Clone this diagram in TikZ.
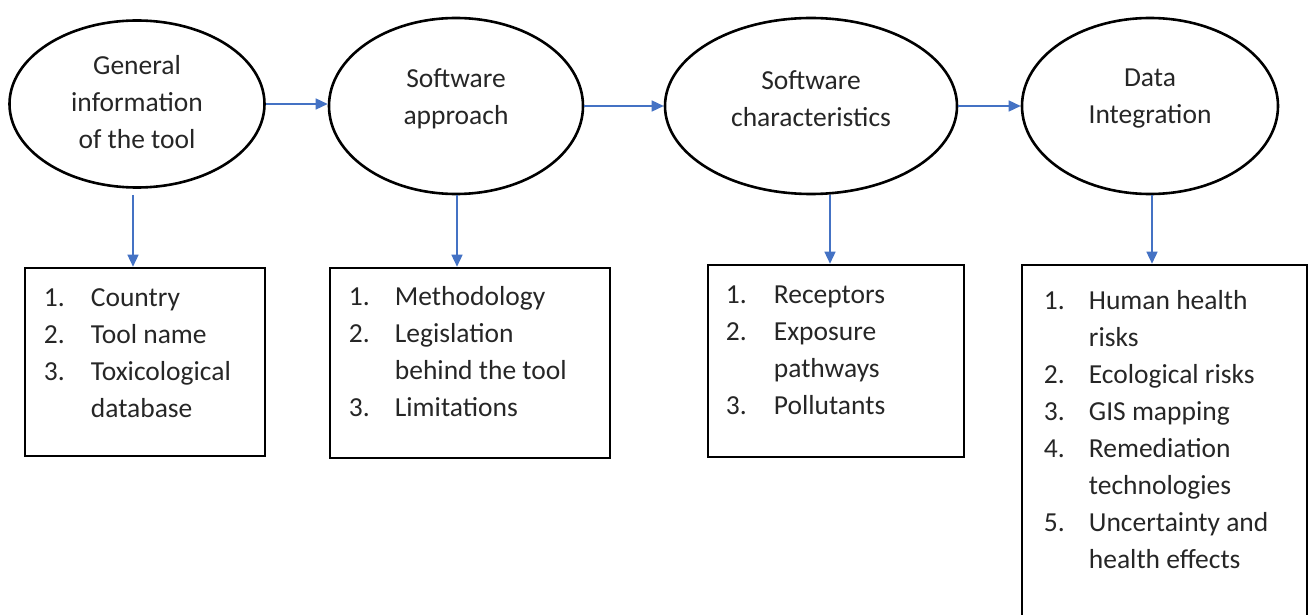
\documentclass[tikz,border=0pt]{standalone}
\usepackage{fontspec}
\setmainfont{Carlito}
\usetikzlibrary{shapes.geometric,arrows.meta}
\definecolor{arrblue}{HTML}{4472C4}
\definecolor{txtgray}{HTML}{262626}
\begin{document}
\begin{tikzpicture}[x=1pt,y=-1pt,
  oval/.style={draw=black,line width=2.6pt,ellipse,inner sep=0pt},
  box/.style={draw=black,line width=2.6pt,rectangle,inner sep=0pt},
  txt/.style={text=txtgray,font=\fontsize{27.5}{37}\selectfont,inner sep=0pt},
  list/.style={txt,anchor=base west},
  arr/.style={draw=arrblue,line width=1.5pt,-{Triangle[length=12pt,width=11pt]}}]
\useasboundingbox (0,0) rectangle (1309,615);
% ellipses
\node[oval,minimum width=255pt,minimum height=167pt] (e1) at (137,104) {};
\node[oval,minimum width=254pt,minimum height=176pt] (e2) at (456,106) {};
\node[oval,minimum width=292pt,minimum height=176pt] (e3) at (811,106) {};
\node[oval,minimum width=256pt,minimum height=176pt] (e4) at (1150,106) {};
\node[txt,align=center] (t1) at (137,102) {General\\information\\of the tool};
\node[txt,align=center] (t2) at (456,98.5) {Software\\approach};
\node[txt,align=center] (t3) at (811,98.5) {Software\\characteristics};
\node[txt,align=center] (t4) at (1150,98.5) {Data\\Integration};
% boxes
\node[box,minimum width=240pt,minimum height=188pt] (b1) at (145,362) {};
\node[box,minimum width=280pt,minimum height=190pt] (b2) at (470,363) {};
\node[box,minimum width=256pt,minimum height=192pt] (b3) at (836,361) {};
\node[box,minimum width=285pt,minimum height=360pt] (b4) at (1164.5,445) {};
\node[list] (l1) at ([shift={(20,40)}]b1.north west)
  {\begin{tabular}[t]{@{}p{47pt}@{}l@{}}1. & Country\\2. & Tool name\\3. & Toxicological\\ & database\end{tabular}};
\node[list] (l2) at ([shift={(20,39)}]b2.north west)
  {\begin{tabular}[t]{@{}p{46pt}@{}l@{}}1. & Methodology\\2. & Legislation\\ & behind the tool\\3. & Limitations\end{tabular}};
\node[list] (l3) at ([shift={(19,40)}]b3.north west)
  {\begin{tabular}[t]{@{}p{48pt}@{}l@{}}1. & Receptors\\2. & Exposure\\ & pathways\\3. & Pollutants\end{tabular}};
\node[list] (l4) at ([shift={(23,46)}]b4.north west)
  {\begin{tabular}[t]{@{}p{45pt}@{}l@{}}1. & Human health\\ & risks\\2. & Ecological risks\\3. & GIS mapping\\4. & Remediation\\ & technologies\\5. & Uncertainty and\\ & health effects\end{tabular}};
% horizontal arrows
\draw[arr] (e1.east) -- (e1.east -| e2.west);
\draw[arr] (e2.east) -- (e2.east -| e3.west);
\draw[arr] (e3.east) -- (e3.east -| e4.west);
% vertical arrows
\draw[arr,shorten <=6pt] ([xshift=-4pt]e1.south) -- ([xshift=-4pt]e1.south |- b1.north);
\draw[arr] ([xshift=1pt]e2.south) -- ([xshift=1pt]e2.south |- b2.north);
\draw[arr] ([xshift=19pt]e3.south) -- ([xshift=19pt]e3.south |- b3.north);
\draw[arr] ([xshift=2pt]e4.south) -- ([xshift=2pt]e4.south |- b4.north);
\end{tikzpicture}
\end{document}
